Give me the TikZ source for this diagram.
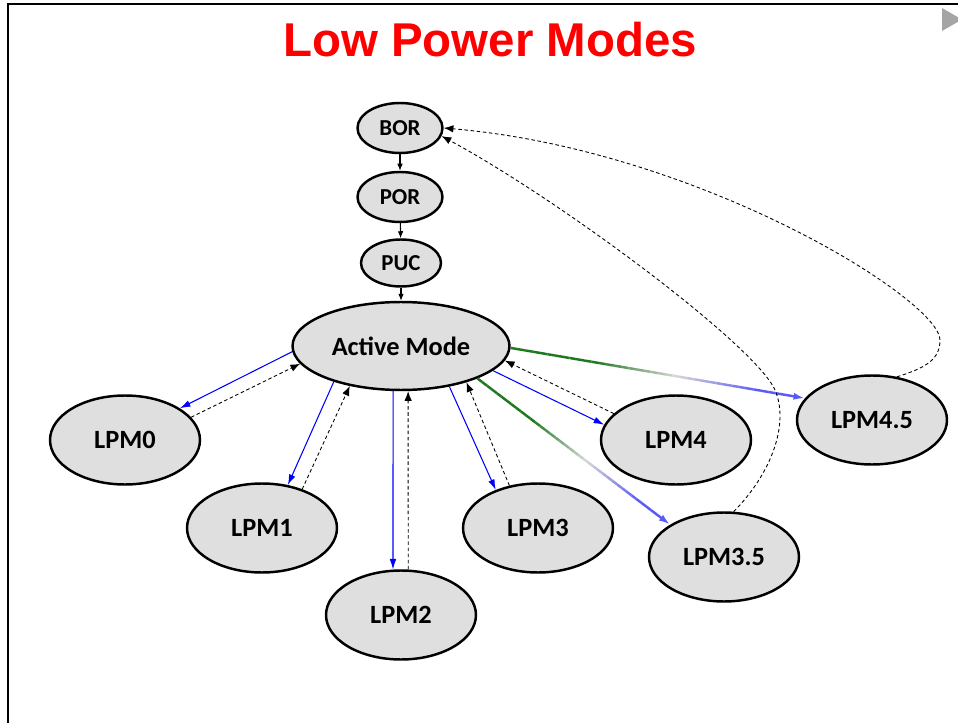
\documentclass[tikz,border=0pt]{standalone}
\usepackage{fontspec}
\setmainfont{Carlito}
\newfontfamily\titlefont{Liberation Sans}
\usetikzlibrary{arrows.meta,calc,shapes.geometric}
\definecolor{nodegray}{RGB}{223,223,223}
\definecolor{lpmgreen}{RGB}{30,120,30}
\definecolor{fadegray}{RGB}{215,215,215}
\definecolor{lpmblue}{RGB}{90,90,245}
\definecolor{markgray}{RGB}{165,165,165}

\begin{document}
\begin{tikzpicture}[x=0.02cm,y=-0.02cm,
    modebox/.style={ellipse,draw,line width=1.4pt,fill=nodegray,inner sep=0pt,font=\fontsize{15}{18}\selectfont\bfseries},
    rstbox/.style={modebox,minimum width=1.7cm,minimum height=1cm,font=\fontsize{13}{15}\selectfont\bfseries},
    lpmbox/.style={modebox,minimum width=3cm,minimum height=1.78cm},
    enter/.style={blue,line width=0.6pt,-{Latex[length=6pt,width=3.8pt]}},
    wake/.style={dash pattern=on 2pt off 1.5pt,line width=0.5pt,-{Latex[length=5.5pt,width=4.2pt]}},
    seq/.style={line width=0.6pt,-{Latex[length=4pt,width=3.2pt]}}
]
\useasboundingbox (0,0) rectangle (958,723);
\draw[line width=1.3pt] (8,723) -- (8,4) -- (958,4);
\fill[markgray] (942,8) -- (942,31) -- (962,19.5) -- cycle;

\node[font=\titlefont\fontsize{27}{32}\selectfont\bfseries,text=red] (title) at (490,40) {Low Power Modes};

% reset chain
\node[rstbox] (bor) at (400,128) {BOR};
\node[rstbox] (por) at (400,197) {POR};
\node[rstbox,minimum width=1.6cm,minimum height=0.94cm] (puc) at (401,263) {PUC};
\node[modebox,minimum width=4.34cm,minimum height=1.76cm] (active) at (401,346) {Active Mode};

% low power modes
\node[lpmbox] (lpm0) at (125,440) {LPM0};
\node[lpmbox] (lpm1) at (262,528) {LPM1};
\node[lpmbox] (lpm2) at (401,615) {LPM2};
\node[lpmbox] (lpm3) at (538,528) {LPM3};
\node[lpmbox] (lpm4) at (676,440) {LPM4};
\node[lpmbox] (lpm35) at (724,557) {LPM3.5};
\node[lpmbox] (lpm45) at (872,420) {LPM4.5};

\draw[seq] (bor) -- (por);
\draw[seq] (por) -- (puc);
\draw[seq] (puc) -- (active);

\draw[enter] (active.183) -- (lpm0.30);
\draw[wake] (lpm0.19) -- (active.190);
\draw[enter] (active.208) -- (lpm1.59);
\draw[wake] (lpm1.44) -- (active.218);
\draw[enter] (active.260) -- (lpm2.100);
\draw[wake] (lpm2.81) -- (active.279);
\draw[enter] (active.320) -- (lpm3.138);
\draw[wake] (lpm3.124) -- (active.331);
\draw[enter] (active.345) -- (lpm4.168);
\draw[wake] (lpm4.157) -- (active.352);

% fading green to blue entries
\coordinate (g1a) at (active.359);
\coordinate (g1b) at (lpm45.162);
\coordinate (g2a) at (active.337);
\coordinate (g2b) at (lpm35.149);
\foreach \a/\b in {g1a/g1b,g2a/g2b} {
  \foreach \i in {0,...,35} {
    \pgfmathtruncatemacro{\pg}{min(100,max(0,(\i-11)*9))}
    \pgfmathtruncatemacro{\pb}{min(100,max(0,(\i-22)*9))}
    \pgfmathsetmacro{\ta}{\i/40}
    \pgfmathsetmacro{\tb}{(\i+1)/40}
    \colorlet{segA}{fadegray!\pg!lpmgreen}
    \colorlet{segB}{lpmblue!\pb!segA}
    \draw[segB,line width=1.4pt] ($(\a)!\ta!(\b)$) -- ($(\a)!\tb!(\b)$);
  }
  \draw[lpmblue,line width=1.4pt,-{Latex[length=6.5pt,width=4pt]}] ($(\a)!0.9!(\b)$) -- (\b);
}

% wake-up through reset
\draw[wake] (lpm45.60) .. controls (925,368) and (940,360) .. (940,340)
  .. controls (940,300) and (700,150) .. (bor.east);
\draw[wake] (lpm35.78) .. controls (770,475) and (790,425) .. (775,390)
  .. controls (755,345) and (560,200) .. (bor.349);
\end{tikzpicture}
\end{document}
